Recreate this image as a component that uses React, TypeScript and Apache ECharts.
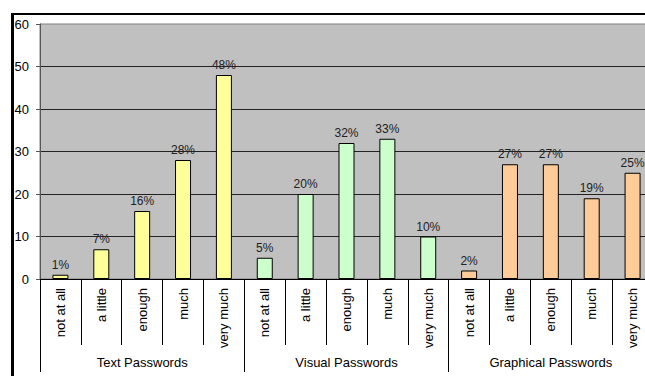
import React, { useEffect, useRef } from "react";
import * as echarts from "echarts";

const levels = ["not at all", "a little", "enough", "much", "very much"];
const groups = ["Text Passwords", "Visual Passwords", "Graphical Passwords"];
const textValues = [1, 7, 16, 28, 48];
const visualValues = [5, 20, 32, 33, 10];
const graphicalValues = [2, 27, 27, 19, 25];
const groupColors = ["#FFFF99", "#CCFFCC", "#FFCC99"];
const yTicks = [0, 10, 20, 30, 40, 50, 60];

const FONT = "'Liberation Sans', Arial, sans-serif";

export default function App() {
  const ref = useRef<HTMLDivElement>(null);
  useEffect(() => {
    if (!ref.current) return;
    const chart = echarts.init(ref.current, undefined, { renderer: "svg" });
    const allValues = [textValues, visualValues, graphicalValues];
    const categories: string[] = [];
    const data: any[] = [];
    allValues.forEach((vals, g) => {
      vals.forEach((v, i) => {
        categories.push(levels[i]);
        data.push({ value: v, itemStyle: { color: groupColors[g] } });
      });
    });
    chart.setOption({
      animation: false,
      backgroundColor: "#ffffff",
      textStyle: { fontFamily: FONT },
      grid: {
        left: 40,
        top: 24,
        right: 17,
        bottom: 97,
        show: true,
        backgroundColor: "#C0C0C0",
        borderColor: "#808080",
        borderWidth: 1,
      },
      graphic: [
        { type: "line", shape: { x1: 12.5, y1: 14, x2: 12.5, y2: 400 }, style: { stroke: "#000", lineWidth: 3 } },
        { type: "line", shape: { x1: 11, y1: 14, x2: 700, y2: 14 }, style: { stroke: "#000", lineWidth: 2 } },
      ],
      xAxis: [
        {
          type: "category",
          data: categories,
          position: "bottom",
          axisLine: { show: true, lineStyle: { color: "#000", width: 1 } },
          axisTick: { show: true, interval: 0, length: 66, alignWithLabel: false, lineStyle: { color: "#000" } },
          axisLabel: { interval: 0, rotate: 90, margin: 9, fontSize: 13, color: "#000", fontFamily: FONT },
          splitLine: { show: false },
        },
        {
          type: "category",
          data: groups,
          position: "bottom",
          axisLine: { show: false },
          axisTick: { show: true, interval: 0, length: 93, alignWithLabel: false, lineStyle: { color: "#000" } },
          axisLabel: { interval: 0, margin: 77, fontSize: 13, color: "#000", fontFamily: FONT },
          splitLine: { show: false },
        },
      ],
      yAxis: {
        type: "value",
        min: yTicks[0],
        max: yTicks[yTicks.length - 1],
        interval: 10,
        axisLine: { show: true, lineStyle: { color: "#555" } },
        axisTick: { show: true, length: 4, lineStyle: { color: "#555" } },
        axisLabel: { margin: 11, fontSize: 13, color: "#000", fontFamily: FONT },
        splitLine: { show: true, showMaxLine: false, lineStyle: { color: "#222", width: 1 } },
      },
      series: [
        {
          type: "bar",
          xAxisIndex: 0,
          data,
          barWidth: 16,
          itemStyle: { borderColor: "#000", borderWidth: 1 },
          label: {
            show: true,
            position: "top",
            distance: 4,
            formatter: "{c}%",
            fontSize: 12,
            color: "#222",
            fontFamily: FONT,
          },
        },
      ],
    });
    return () => chart.dispose();
  }, []);
  return (
    <div
      style={{ position: "absolute", left: 0, top: 0, width: 645, height: 376, overflow: "hidden" }}
    >
      <div ref={ref} style={{ width: 670, height: 376 }} />
    </div>
  );
}
